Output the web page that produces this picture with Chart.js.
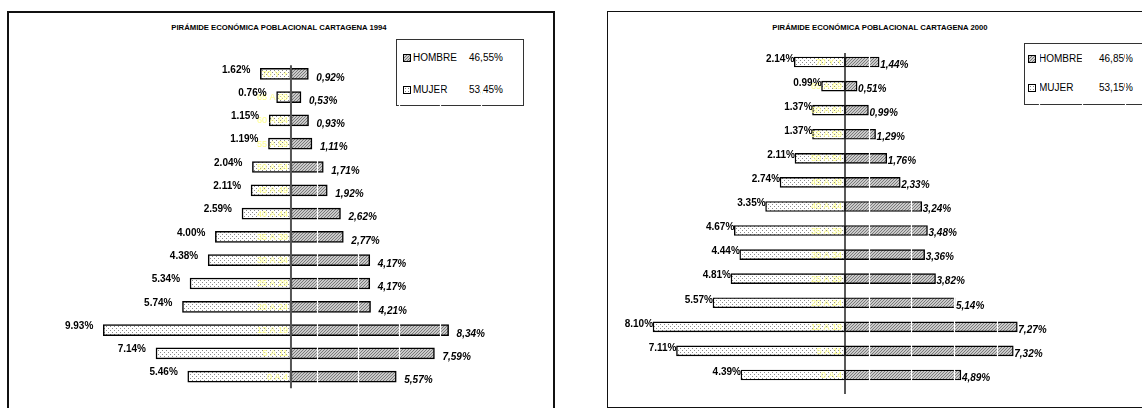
<!DOCTYPE html>
<html>
<head>
<meta charset="utf-8">
<script src="https://cdn.jsdelivr.net/npm/chart.js@4.4.1/dist/chart.umd.min.js"></script>
<style>
html,body{margin:0;padding:0;width:1142px;height:408px;overflow:hidden;background:#fff;font-family:"Liberation Sans",Arial,sans-serif;color:#000;}
.box{position:absolute;box-sizing:border-box;border:1.5px solid #111;}
.title{position:absolute;font-weight:bold;font-size:7.7px;white-space:nowrap;transform:translate(-50%,-50%);}
.legend{position:absolute;box-sizing:border-box;border:1.5px solid #333;font-size:10px;}
.legend span{position:absolute;white-space:nowrap;transform:translateY(-50%);line-height:1;}
.legend span.icon{width:6px;height:6px;border:1px solid #000;transform:translateY(-50%);}
.hatch{background:repeating-linear-gradient(-45deg,#777 0 0.8px,#cfcfcf 0.8px 2px);}
.dots{background-color:#fff;background-image:radial-gradient(circle,#888 0.6px,transparent 0.8px);background-size:3px 3px;}
canvas{position:absolute;}
</style>
</head>
<body>
<div class="box" style="left:7px;top:11px;width:548px;height:420px;border-width:2px;"></div>
<div class="box" style="left:607px;top:11px;width:600px;height:397px;"></div>

<div class="title" style="left:279px;top:27px;">PIRÁMIDE ECONÓMICA POBLACIONAL CARTAGENA 1994</div>
<div class="title" style="left:880px;top:27px;">PIRÁMIDE ECONÓMICA POBLACIONAL CARTAGENA 2000</div>

<div class="legend" id="leg1" style="left:396px;top:39px;width:128px;height:67px;"></div>
<div class="legend" id="leg2" style="left:1024px;top:43px;width:160px;height:62px;"></div>

<canvas id="c1" width="546" height="396" style="left:8px;top:12px;"></canvas>
<canvas id="c2" width="534" height="396" style="left:608px;top:12px;"></canvas>

<script>
// ---------- DATA ----------
const ages = ['70 Y +','65 A 69','60 A 64','55 A 59','50 A 54','45 A 49','40 A 44','35 A 39','30 A 34','25 A 29','20 A 24','12 A 19','5 A 11','0 A 4'];
const seriesNames = ['HOMBRE','MUJER'];

const mujer1994  = [1.62,0.76,1.15,1.19,2.04,2.11,2.59,4.00,4.38,5.34,5.74,9.93,7.14,5.46];
const hombre1994 = [0.92,0.53,0.93,1.11,1.71,1.92,2.62,2.77,4.17,4.17,4.21,8.34,7.59,5.57];
const hombreLabels1994 = ['0,92%','0,53%','0,93%','1,11%','1,71%','1,92%','2,62%','2,77%','4,17%','4,17%','4,21%','8,34%','7,59%','5,57%'];
const totals1994 = ['46,55%','53,45%'];

const mujer2000  = [2.14,0.99,1.37,1.37,2.11,2.74,3.35,4.67,4.44,4.81,5.57,8.10,7.11,4.39];
const hombre2000 = [1.44,0.51,0.99,1.29,1.76,2.33,3.24,3.48,3.36,3.82,4.64,7.27,7.10,4.89];
const hombreLabels2000 = ['1,44%','0,51%','0,99%','1,29%','1,76%','2,33%','3,24%','3,48%','3,36%','3,82%','5,14%','7,27%','7,32%','4,89%'];
const totals2000 = ['46,85%','53,15%'];

// ---------- PATTERNS ----------
function dotPattern(ctx){
  const c=document.createElement('canvas');c.width=4;c.height=4;
  const g=c.getContext('2d');g.fillStyle='#fff';g.fillRect(0,0,4,4);
  g.fillStyle='#8a8a8a';g.fillRect(0,0,1,1);g.fillRect(2,2,1,1);
  return ctx.createPattern(c,'repeat');
}
function hatchPattern(ctx){
  const c=document.createElement('canvas');c.width=3;c.height=3;
  const g=c.getContext('2d');g.fillStyle='#cacaca';g.fillRect(0,0,3,3);
  g.fillStyle='#7a7a7a';
  for(let i=0;i<3;i++) g.fillRect(i,2-i,1,1);
  return ctx.createPattern(c,'repeat');
}

// ---------- LABEL / AXIS PLUGIN ----------
const pyramidPlugin = {
  id:'pyramid',
  afterDraw(chart, args, o){
    const ctx=chart.ctx, xs=chart.scales.x, area=chart.chartArea;
    const zero=xs.getPixelForValue(0);
    const fem=chart.getDatasetMeta(0).data, mal=chart.getDatasetMeta(1).data;
    ctx.save();
    // white vertical gridlines (visible only across the bars)
    ctx.strokeStyle='#ffffff'; ctx.lineWidth=1.2;
    o.grid.forEach(v=>{
      const px=Math.round(xs.getPixelForValue(v))+0.5;
      ctx.beginPath(); ctx.moveTo(px, area.top); ctx.lineTo(px, area.bottom); ctx.stroke();
    });
    ctx.textBaseline='middle';
    // age group labels
    ctx.font=o.ageFont; ctx.fillStyle=o.ageColor; ctx.textAlign='right';
    chart.data.labels.forEach((lab,i)=>ctx.fillText(lab, zero-o.ageGap, fem[i].y+0.5));
    // axis
    ctx.strokeStyle=o.axisColor; ctx.lineWidth=o.axisWidth;
    ctx.beginPath(); ctx.moveTo(zero, area.top+o.axisTop); ctx.lineTo(zero, area.bottom+o.axisBottom); ctx.stroke();
    // female labels
    ctx.fillStyle='#000';
    ctx.font='bold 10px "Liberation Sans", Arial, sans-serif'; ctx.textAlign='right';
    chart.data.datasets[0].data.forEach((v,i)=>ctx.fillText(Math.abs(v).toFixed(2)+'%', fem[i].x-o.femGap, fem[i].y+o.femDy));
    // male labels
    ctx.font='italic bold 10px "Liberation Sans", Arial, sans-serif'; ctx.textAlign='left';
    o.maleLabels.forEach((t,i)=>ctx.fillText(t, mal[i].x+o.malGap, mal[i].y+o.malDy));
    ctx.restore();
  }
};

function makeChart(id, mujer, hombre, maleLabels, cfg){
  const canvas=document.getElementById(id);
  const ctx=canvas.getContext('2d');
  const grid=[];
  for(let v=cfg.gridStart; v<cfg.max; v+=cfg.gridStep) grid.push(v);
  return new Chart(ctx,{
    type:'bar',
    data:{
      labels:ages,
      datasets:[
        {label:seriesNames[1], data:mujer.map(v=>-v), backgroundColor:dotPattern(ctx), borderColor:'#000', borderWidth:cfg.bw, borderSkipped:false, barThickness:cfg.thick},
        {label:seriesNames[0], data:hombre, backgroundColor:hatchPattern(ctx), borderColor:'#000', borderWidth:cfg.bw, borderSkipped:false, barThickness:cfg.thick}
      ]
    },
    options:{
      indexAxis:'y',
      responsive:false,
      animation:false,
      layout:{padding:cfg.padding},
      scales:{
        x:{type:'linear', stacked:true, min:cfg.min, max:cfg.max, display:false},
        y:{type:'category', stacked:true, display:false}
      },
      plugins:{
        legend:{display:false},
        tooltip:{enabled:false},
        title:{display:false},
        pyramid:Object.assign({maleLabels, grid}, cfg.labels)
      }
    },
    plugins:[pyramidPlugin]
  });
}

makeChart('c1', mujer1994, hombre1994, hombreLabels1994, {
  padding:{left:84.5,right:36.2,top:50.15,bottom:19.65},
  min:-10.5, max:12, gridStart:1.37, gridStep:2.17, bw:1.5, thick:11,
  labels:{ageFont:'9px "Liberation Sans", Arial, sans-serif', ageColor:'#ffff8c', ageGap:3,
          axisColor:'#555', axisWidth:2, axisTop:3, axisBottom:0,
          femGap:10, femDy:-4, malGap:8, malDy:4}
});
makeChart('c2', mujer2000, hombre2000, hombreLabels2000, {
  padding:{left:23.7,right:12.6,top:38,bottom:21},
  min:-9, max:12, gridStart:1.0, gridStep:1.8, bw:1.4, thick:10,
  labels:{ageFont:'9px "Liberation Sans", Arial, sans-serif', ageColor:'#ffff8c', ageGap:3,
          axisColor:'#222', axisWidth:1.5, axisTop:3, axisBottom:7,
          femGap:0, femDy:-3, malGap:1, malDy:3}
});

// ---------- LEGENDS (HTML text) ----------
function buildLegend(id, totals, pos){
  const el=document.getElementById(id);
  const classes=['hatch','dots'];
  seriesNames.forEach((name,i)=>{
    const y=pos.rows[i];
    el.insertAdjacentHTML('beforeend',
      `<span class="icon ${classes[i]}" style="left:${pos.icon}px;top:${y}px"></span>`+
      `<span style="left:${pos.name}px;top:${y}px">${name}</span>`+
      `<span style="left:${pos.pct}px;top:${y}px">${totals[i]}</span>`);
  });
}
buildLegend('leg1', totals1994, {icon:6, name:16, pct:72, rows:[18,50]});
buildLegend('leg2', totals2000, {icon:3, name:14, pct:74, rows:[15,44]});
</script>
</body>
</html>
